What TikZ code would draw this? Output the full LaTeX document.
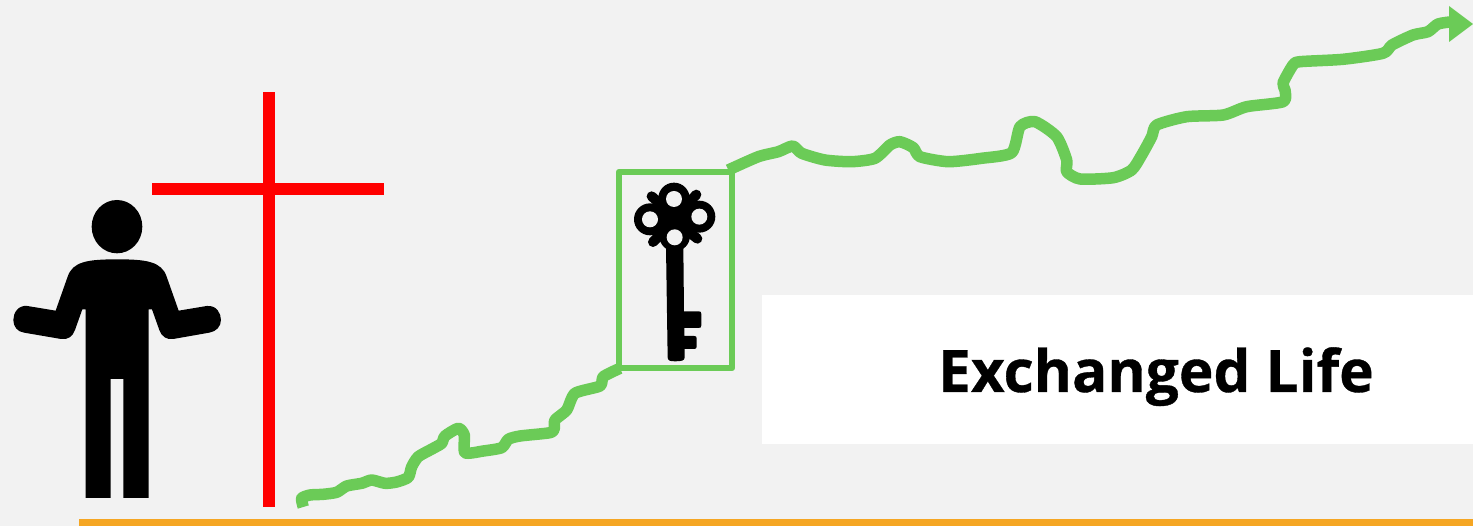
\documentclass[tikz,border=0pt]{standalone}
\usepackage{fontspec}
\setmainfont{Open Sans}
\newfontfamily\titlefont{Open Sans}[BoldFeatures={FakeBold=0.6}]
\definecolor{bgc}{HTML}{F2F2F2}
\definecolor{grn}{HTML}{6BCB57}
\definecolor{org}{HTML}{F5A623}
\tikzset{
  wave/.style={draw=grn,line width=11.5pt,line join=round},
  stud/.style={black,line width=10pt,line cap=round},
  zoomA/.style={shift={(0,180)},x=0.3333pt,y=-0.3333pt},
  zoomB/.style={shift={(600,150)},x=0.3333pt,y=-0.3333pt}
}
\begin{document}
\begin{tikzpicture}[x=1pt,y=-1pt]
\useasboundingbox (0,0) rectangle (1473,526);
\fill[bgc] (0,0) rectangle (1473,526);
% base
\fill[org] (79,519) rectangle (1473,526);
% panel
\fill[white] (762,295) rectangle (1473,444);
\node[font=\fontsize{58.5}{60}\selectfont\titlefont\bfseries,anchor=base,inner sep=0pt] (title) at (1156,392) {Exchanged Life};
% cross
\fill[red] (263,92) rectangle (274.5,507);
\fill[red] (152,183.5) rectangle (384,195.5);
% person
\begin{scope}[zoomA]
\fill[black] (351,140) ellipse [x radius=76,y radius=80];
\fill[black] (352,238) .. controls (440,238) and (485,245) .. (500,290) -- (536,392) -- (620,378)
 .. controls (650,375) and (663,400) .. (663,420) .. controls (663,440) and (648,455) .. (628,458)
 -- (520,477) .. controls (500,480) and (485,470) .. (478,450) -- (456,388) -- (446,388) -- (446,954)
 -- (370,954) -- (370,597) -- (332,597) -- (332,954) -- (257,954) -- (257,388) -- (247,388)
 -- (225,450) .. controls (218,470) and (203,480) .. (183,477) -- (72,458)
 .. controls (52,455) and (40,440) .. (40,420) .. controls (40,398) and (55,375) .. (82,378)
 -- (167,392) -- (203,290) .. controls (218,245) and (262,238) .. (352,238) -- cycle;
\end{scope}
% key box
\draw[grn,line width=6.5pt,line join=round] (619,172) rectangle (732,368);
% key
\begin{scope}[zoomB]
\fill[black] (222,145) circle (47);
\fill[black] (150,208) circle (48);
\fill[black] (298,200) circle (48);
\fill[black] (224,258) circle (46);
\fill[black] (224,205) circle (62);
\draw[stud] (155,139) -- (190,170);
\draw[stud] (289,134) -- (255,170);
\draw[stud] (159,276) -- (190,245);
\draw[stud] (292,266) -- (260,240);
\fill[black] (198,290) -- (203,622) .. controls (203,632) and (210,634) .. (225,634)
 .. controls (245,634) and (254,632) .. (254,622) -- (254,597) -- (282,597)
 .. controls (288,597) and (290,595) .. (290,590) -- (290,565) .. controls (290,560) and (288,558) .. (282,558)
 -- (253,558) -- (253,534) -- (296,534) .. controls (302,534) and (304,532) .. (304,526)
 -- (304,492) .. controls (304,486) and (302,484) .. (296,484) -- (252,484) -- (250,290) -- cycle;
\fill[bgc] (222,147) circle (24);
\fill[bgc] (150,208) circle (24);
\fill[bgc] (298,200) circle (24);
\fill[bgc] (224,262) circle (24);
\end{scope}
% rising line, lower part
\draw[wave] plot[smooth,tension=0.4] coordinates {(303.3,507) (301.7,498.3) (310,495) (323.3,494.3) (336.7,492.3) (346.7,486) (361.7,483.3) (371.7,480) (385,483.3) (396.7,482) (408.3,477.3) (411.7,466.7) (418.3,456.7) (433.3,448.3) (441.7,443.3) (445,436) (458.3,428.3) (464.3,435) (465,452.7) (483.3,451) (501.7,447.7) (508.3,439.3) (520,436) (550,432.7) (554.3,428.3) (555,420) (566.7,410) (575,393.3) (600,386) (603.3,376.7) (620,368.3)};
% rising line, upper part
\draw[wave] plot[smooth,tension=0.4] coordinates {(728.3,170) (758.3,156.7) (778.3,151.7) (792.7,146) (801.7,153.3) (825,160) (851.7,161.7) (875,158.3) (890,145) (900,141.7) (913.3,147.7) (920,156.7) (948.3,161.7) (981.7,158.3) (1011.7,152.7) (1020,126.7) (1035,121.7) (1056.7,136.7) (1066.7,160) (1066.7,171.7) (1080,179) (1113.3,177.7) (1131.7,170) (1141.7,155) (1151.7,136.7) (1156.7,125) (1186.7,116.7) (1223.3,115) (1246.7,106.7) (1283.3,101.7) (1285,90) (1283,83) (1293,65) (1300,61.7) (1343,59.3) (1383,53.3) (1392,45) (1413,35) (1428,31.7) (1438,24) (1452,21.7)};
\fill[grn] (1449,6) -- (1473,24) -- (1449,42) -- cycle;
\end{tikzpicture}
\end{document}
